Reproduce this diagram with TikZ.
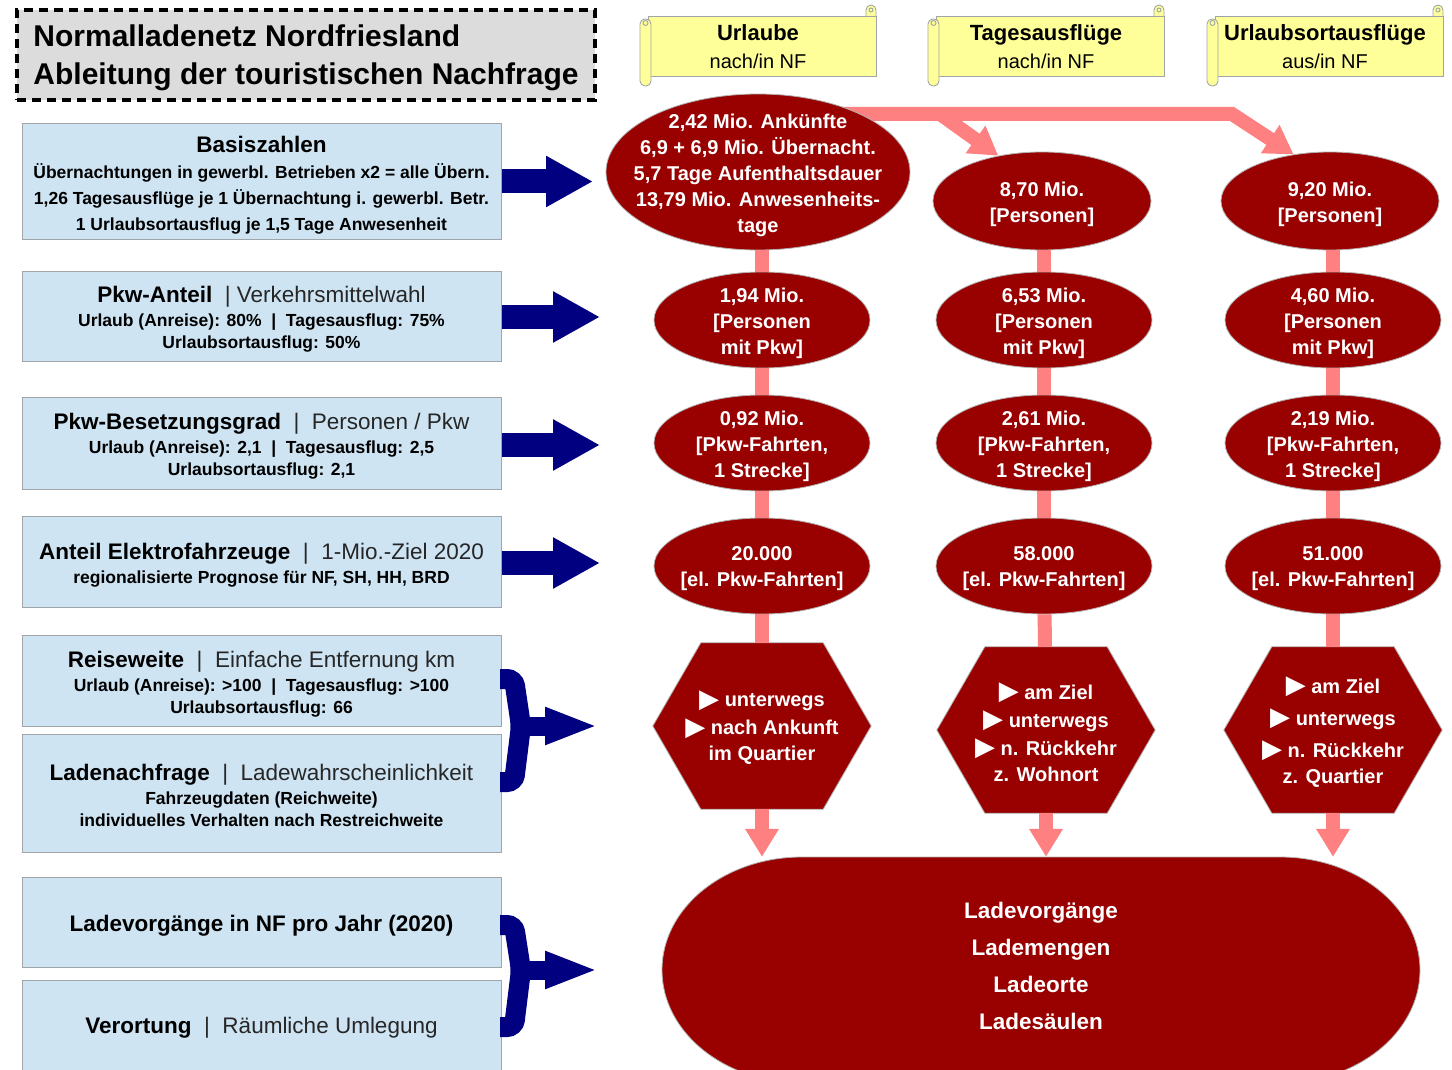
\documentclass[tikz,border=0pt]{standalone}
\usepackage{fontspec}
\setmainfont{Liberation Sans}
\newfontfamily\symfont{DejaVu Sans}
\usetikzlibrary{arrows.meta,shapes.geometric,backgrounds}
\definecolor{dred}{RGB}{153,0,0}
\definecolor{pinkc}{RGB}{255,128,128}
\definecolor{navyc}{RGB}{0,0,128}
\definecolor{boxblue}{RGB}{206,228,243}
\definecolor{boxline}{RGB}{160,165,170}
\definecolor{scrolly}{RGB}{255,255,153}
\definecolor{titlegray}{RGB}{220,220,220}
\newcommand\hdb[1]{{\fontsize{22.5}{25}\selectfont\bfseries #1}}
\newcommand\hdr[1]{{\fontsize{22.5}{25}\selectfont\mdseries\color{black!85} #1}}
\newcommand\tri{\smash{\raisebox{-0.5pt}{\symfont\fontsize{26}{28}\selectfont ▶}}}
\newcommand\scrollat[1]{%
\begin{scope}[shift={(#1,0)}]
\filldraw[scrollfill] (8,16) rectangle (236,76);
\filldraw[scrollfill] (226,16) -- (226,10) arc[start angle=180,end angle=360,radius=5] -- (236,16);
\draw[boxline, line width=0.9pt] (231,10) circle[radius=2];
\filldraw[scrollfill, rounded corners=5pt] (0,19) rectangle (11,86);
\draw[boxline, line width=0.9pt] (5.5,23) circle[radius=2.5];
\end{scope}}
\begin{document}
\begin{tikzpicture}[x=1pt,y=-1pt,
 lbox/.style={draw=boxline, fill=boxblue, line width=1pt, minimum width=479pt, inner sep=0pt},
 ltext/.style={inner sep=0pt, align=center, yshift=-3.5pt, font=\fontsize{17.5}{24}\selectfont\bfseries},
 rnode/.style={ellipse, draw=gray!60, line width=0.8pt, fill=dred, inner sep=0pt},
 rsmall/.style={rnode, minimum width=216pt, minimum height=96pt},
 rtext/.style={inner sep=0pt, align=center, text=white, yshift=-3pt, font=\fontsize{20}{26}\selectfont\bfseries},
 hexbox/.style={rectangle, minimum width=218pt, minimum height=166pt, inner sep=0pt},
 htext/.style={inner sep=0pt, align=center, text=white, yshift=-3pt, font=\fontsize{20}{28}\selectfont\bfseries},
 pinkline/.style={draw=pinkc, line width=14pt},
 pinkarrow/.style={pinkline, -{Triangle[length=28pt,width=32pt]}},
 navyarrow/.style={draw=navyc, line width=24pt, -{Triangle[length=47pt,width=48pt]}},
 bracearrow/.style={draw=navyc, line width=19pt, -{Triangle[length=53pt,width=34pt]}},
 bracestroke/.style={draw=navyc, line width=20pt, rounded corners=7pt},
 scrollfill/.style={fill=scrolly, draw=boxline, line width=0.9pt},
 scrolltext/.style={align=center, inner sep=0pt, font=\fontsize{20}{28}\selectfont},
]
\useasboundingbox (0,0) rectangle (1452,1070);

% title
\node[draw=black, line width=3.5pt, dash pattern=on 9pt off 6pt, fill=titlegray,
 minimum width=578pt, minimum height=90pt, inner sep=0pt] (title) at (306,55) {};
\node[align=left, inner sep=0pt, font=\fontsize{30}{38}\selectfont\bfseries] (titletext) at (306,58)
 {Normalladenetz Nordfriesland\\Ableitung der touristischen Nachfrage};

% scrolls
\scrollat{640}
\scrollat{928}
\scrollat{1207}
\node[scrolltext] (s1) at (758,47) {{\fontsize{22}{28}\selectfont\bfseries Urlaube}\\nach/in NF};
\node[scrolltext] (s2) at (1046,47) {{\fontsize{22}{28}\selectfont\bfseries Tagesausflüge}\\nach/in NF};
\node[scrolltext] (s3) at (1325,47) {{\fontsize{22}{28}\selectfont\bfseries Urlaubsortausflüge}\\aus/in NF};

% left boxes
\node[lbox, minimum height=115pt] (b1) at (261.5,181.5) {};
\node[ltext] (t1) at (b1)
 {\hdb{Basiszahlen}\\[2pt]
  Übernachtungen in gewerbl. Betrieben x2 = alle Übern.\\[2pt]
  1,26 Tagesausflüge je 1 Übernachtung i. gewerbl. Betr.\\[2pt]
  1 Urlaubsortausflug je 1,5 Tage Anwesenheit};
\node[lbox, minimum height=90pt] (b2) at (261.5,316) {};
\node[ltext] (t2) at (b2)
 {\hdb{Pkw-Anteil}\hdr{\ \ | Verkehrsmittelwahl}\\
  Urlaub (Anreise): 80\%\ \ |\ \ Tagesausflug: 75\%\\[-2pt]
  Urlaubsortausflug: 50\%};
\node[lbox, minimum height=92pt] (b3) at (261.5,443) {};
\node[ltext] (t3) at (b3)
 {\hdb{Pkw-Besetzungsgrad}\hdr{\ \ |\ \ Personen / Pkw}\\
  Urlaub (Anreise): 2,1\ \ |\ \ Tagesausflug: 2,5\\[-2pt]
  Urlaubsortausflug: 2,1};
\node[lbox, minimum height=91pt] (b4) at (261.5,561.5) {};
\node[ltext] (t4) at (b4)
 {\hdb{Anteil Elektrofahrzeuge}\hdr{\ \ |\ \ 1-Mio.-Ziel 2020}\\
  regionalisierte Prognose für NF, SH, HH, BRD};
\node[lbox, minimum height=91pt] (b5) at (261.5,680.5) {};
\node[ltext] (t5) at (b5)
 {\hdb{Reiseweite}\hdr{\ \ |\ \ Einfache Entfernung km}\\
  Urlaub (Anreise): >100\ \ |\ \ Tagesausflug: >100\\[-2pt]
  Urlaubsortausflug: 66};
\node[lbox, minimum height=118pt] (b6) at (261.5,793) {};
\node[ltext, yshift=1pt] (t6) at (b6)
 {\hdb{Ladenachfrage}\hdr{\ \ |\ \ Ladewahrscheinlichkeit}\\
  Fahrzeugdaten (Reichweite)\\[-2pt]
  individuelles Verhalten nach Restreichweite};
\node[lbox, minimum height=90pt] (b7) at (261.5,922) {};
\node[ltext] (t7) at (b7) {\hdb{Ladevorgänge in NF pro Jahr (2020)}};
\node[lbox, minimum height=100pt] (b8) at (261.5,1030) {};
\node[ltext, yshift=6pt] (t8) at (b8) {\hdb{Verortung}\hdr{\ \ |\ \ Räumliche Umlegung}};

% navy arrows
\coordinate (a1) at (593,181.5);
\coordinate (a2) at (600,317);
\coordinate (a3) at (600,445);
\coordinate (a4) at (600,563);
\draw[navyarrow] (b1.east) -- (a1);
\draw[navyarrow] (b2.east |- a2) -- (a2);
\draw[navyarrow] (b3.east |- a3) -- (a3);
\draw[navyarrow] (b4.east |- a4) -- (a4);

% braces
\draw[bracestroke] (500,679) -- (514,679) -- (521,726) -- (514,782) -- (500,782);
\coordinate (c1) at (519,726);
\coordinate (d1) at (598,726);
\draw[bracearrow] (c1) -- (d1);
\draw[bracestroke] (500,925) -- (514,925) -- (521,970) -- (514,1027) -- (500,1027);
\coordinate (c2) at (519,970);
\coordinate (d2) at (598,970);
\draw[bracearrow] (c2) -- (d2);

% red ellipses
\node[rnode, minimum width=304pt, minimum height=156pt] (e1) at (758,172) {};
\node[rsmall, minimum width=218pt, minimum height=98pt] (e2) at (1042,201) {};
\node[rsmall, minimum width=218pt, minimum height=98pt] (e3) at (1330,201) {};
\foreach \c/\x in {1/762,2/1044,3/1333}{
 \node[rsmall] (p\c) at (\x,320) {};
 \node[rsmall] (k\c) at (\x,443) {};
 \node[rsmall] (z\c) at (\x,566) {};
}
\node[rtext] (e1t) at (e1) {2,42 Mio. Ankünfte\\6,9 + 6,9 Mio. Übernacht.\\5,7 Tage Aufenthaltsdauer\\13,79 Mio. Anwesenheits-\\tage};
\node[rtext] (e2t) at (e2) {8,70 Mio.\\{[Personen]}};
\node[rtext] (e3t) at (e3) {9,20 Mio.\\{[Personen]}};
\node[rtext] (p1t) at (p1) {1,94 Mio.\\{[Personen}\\mit Pkw]};
\node[rtext] (p2t) at (p2) {6,53 Mio.\\{[Personen}\\mit Pkw]};
\node[rtext] (p3t) at (p3) {4,60 Mio.\\{[Personen}\\mit Pkw]};
\node[rtext] (k1t) at (k1) {0,92 Mio.\\{[Pkw-Fahrten,}\\1 Strecke]};
\node[rtext] (k2t) at (k2) {2,61 Mio.\\{[Pkw-Fahrten,}\\1 Strecke]};
\node[rtext] (k3t) at (k3) {2,19 Mio.\\{[Pkw-Fahrten,}\\1 Strecke]};
\node[rtext] (z1t) at (z1) {20.000\\{[el. Pkw-Fahrten]}};
\node[rtext] (z2t) at (z2) {58.000\\{[el. Pkw-Fahrten]}};
\node[rtext] (z3t) at (z3) {51.000\\{[el. Pkw-Fahrten]}};

% hexagons
\node[hexbox] (h1) at (762,726) {};
\node[hexbox] (h2) at (1046,730) {};
\node[hexbox] (h3) at (1333,730) {};
\node[htext] (h1t) at (h1) {\tri\ unterwegs\\\tri\ nach Ankunft\\[-2pt]im Quartier};
\node[htext] (h2t) at (h2) {\tri\ am Ziel\\\tri\ unterwegs\\\tri\ n. Rückkehr\\[-2pt]z. Wohnort};
\node[htext] (h3t) at (h3) {\tri\ am Ziel\\[4pt]\tri\ unterwegs\\[4pt]\tri\ n. Rückkehr\\[-2pt]z. Quartier};

% bottom shape
\node[rectangle, minimum width=758pt, minimum height=226pt, inner sep=0pt] (B) at (1041,970) {};
\node[inner sep=0pt, align=center, text=white, font=\fontsize{22.5}{37}\selectfont\bfseries] (Bt) at (1041,966)
 {Ladevorgänge\\Lademengen\\Ladeorte\\Ladesäulen};

% vertical pink connectors
\foreach \c in {1,2,3}{
 \draw[pinkline] (p\c) -- (k\c);
 \draw[pinkline] (k\c) -- (z\c);
 \draw[pinkline] (z\c) -- (h\c);
 \draw[pinkarrow] (h\c) -- (h\c |- B.north);
}
\draw[pinkline] (e1.south -| p1) -- (p1);
\draw[pinkline] (e2.south -| p2) -- (p2);
\draw[pinkline] (e3.south -| p3) -- (p3);

\coordinate (j1) at (940,114);
\coordinate (j2) at (1232,114);

\begin{pgfonlayer}{background}
 \draw[pinkarrow] (e1 |- j2) -- (j2) -- (e3.128);
 \draw[pinkarrow] (j1) -- (e2.134);
 \foreach \h in {h1,h2,h3}{
  \filldraw[fill=dred, draw=gray!60, line width=0.8pt]
   (\h.west) -- ([xshift=48pt]\h.north west) -- ([xshift=-48pt]\h.north east) -- (\h.east)
   -- ([xshift=-48pt]\h.south east) -- ([xshift=48pt]\h.south west) -- cycle;
 }
 \filldraw[fill=dred, draw=gray!60, line width=0.8pt]
  (802,857) -- (1280,857) arc[start angle=-90,end angle=90,x radius=140,y radius=113]
  -- (802,1083) arc[start angle=90,end angle=270,x radius=140,y radius=113] -- cycle;
\end{pgfonlayer}
\end{tikzpicture}
\end{document}
